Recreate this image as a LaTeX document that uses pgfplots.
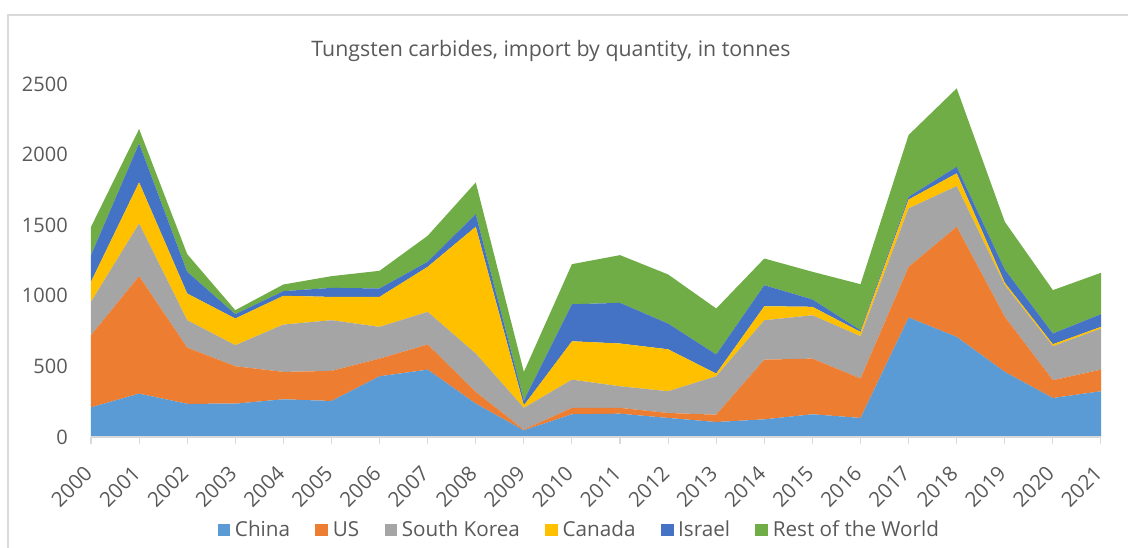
\documentclass[border=0pt]{standalone}
\usepackage{pgfplots}
\pgfplotsset{compat=1.18}
\usepackage{pgfplotstable}
\usepackage{fontspec}
\setmainfont{Open Sans}
\definecolor{cChina}{HTML}{5B9BD5}
\definecolor{cUS}{HTML}{ED7D31}
\definecolor{cSK}{HTML}{A5A5A5}
\definecolor{cCan}{HTML}{FFC000}
\definecolor{cIsr}{HTML}{4472C4}
\definecolor{cRow}{HTML}{70AD47}
\definecolor{txt}{HTML}{595959}
\definecolor{grd}{HTML}{D9D9D9}
\pgfplotstableread{
year China US SK Canada Israel RoW
2000 210 511 236 142 189 200
2001 307 832 373 291 276 102
2002 235 398 194 189 154 125
2003 236 265 149 189 31 28
2004 267 194 335 204 33 47
2005 255 213 359 165 64 83
2006 430 125 225 212 60 125
2007 477 178 231 319 36 184
2008 236 83 272 898 89 225
2009 47 5 154 18 36 201
2010 161 45 200 272 262 284
2011 165 41 153 303 288 338
2012 135 35 154 297 182 348
2013 106 52 272 19 135 326
2014 125 423 279 99 149 189
2015 161 394 307 60 52 196
2016 135 279 300 30 12 326
2017 846 359 414 63 19 438
2018 709 780 288 90 47 555
2019 461 390 224 17 94 338
2020 276 126 241 14 76 307
2021 324 153 291 12 90 293
}\data
\begin{document}
\begin{tikzpicture}[x=1pt,y=1pt]
% bounding box: 1128x548 px at 0.75pt/px; axis box origin at (91px,437px)
\useasboundingbox (-68.25,-83.25) rectangle (777.75,327.75);
\draw[grd, line width=0.8pt] (-62.25,-83.25) -- (-62.25,316.5) -- (777.75,316.5);
\begin{axis}[
  at={(0,0)}, anchor=south west,
  scale only axis, width=757.5pt, height=264.75pt,
  xmin=2000, xmax=2021, ymin=0, ymax=2500,
  stack plots=y, area style,
  axis line style={draw=none},
  axis x line*=bottom,
  x axis line style={draw=grd, line width=0.8pt},
  axis y line=none,
  ytick={0,500,1000,1500,2000,2500},
  ymajorgrids, grid style={grd, line width=0.8pt},
  xtick={2000,...,2021},
  xticklabel={\pgfmathprintnumber[1000 sep={},fixed]{\tick}},
  xtick style={draw=grd, line width=0.8pt},
  tick align=outside, major tick length=5pt,
  ytick style={draw=none},
  xticklabel shift=14pt,
  xticklabel style={xshift=-6pt, rotate=45, anchor=north east, font=\fontsize{15.5}{18}\selectfont, text=txt, inner sep=1pt},
  /pgf/number format/assume math mode=true,
  clip=false,
  legend columns=6,
  legend style={draw=none, fill=none, at={(366pt,-69.75pt)}, anchor=center, font=\fontsize{15.5}{18}\selectfont, text=txt,
    inner sep=0pt, nodes={inner sep=1pt},
    /tikz/every odd column/.append style={column sep=2.5pt},
    /tikz/every even column/.append style={column sep=18pt}},
  legend image code/.code={\fill[#1] (0pt,-4.5pt) rectangle (9.5pt,4.5pt);},
]
\addplot[fill=cChina, draw=none] table[x=year,y=China]{\data} \closedcycle;
\addplot[fill=cUS, draw=none] table[x=year,y=US]{\data} \closedcycle;
\addplot[fill=cSK, draw=none] table[x=year,y=SK]{\data} \closedcycle;
\addplot[fill=cCan, draw=none] table[x=year,y=Canada]{\data} \closedcycle;
\addplot[fill=cIsr, draw=none] table[x=year,y=Israel]{\data} \closedcycle;
\addplot[fill=cRow, draw=none] table[x=year,y=RoW]{\data} \closedcycle;
\legend{China,US,South Korea,Canada,Israel,Rest of the World}
\end{axis}
% y tick labels
\foreach \v/\p in {0/0,500/52.95,1000/105.9,1500/158.85,2000/211.8,2500/264.75}
  \node[anchor=east, text=txt, font=\fontsize{15}{18}\selectfont, inner sep=0pt] at (-17.25,\p) {\v};
\node[text=txt, font=\fontsize{16}{20}\selectfont, anchor=base] at (345,285) {Tungsten carbides, import by quantity, in tonnes};
\end{tikzpicture}
\end{document}
